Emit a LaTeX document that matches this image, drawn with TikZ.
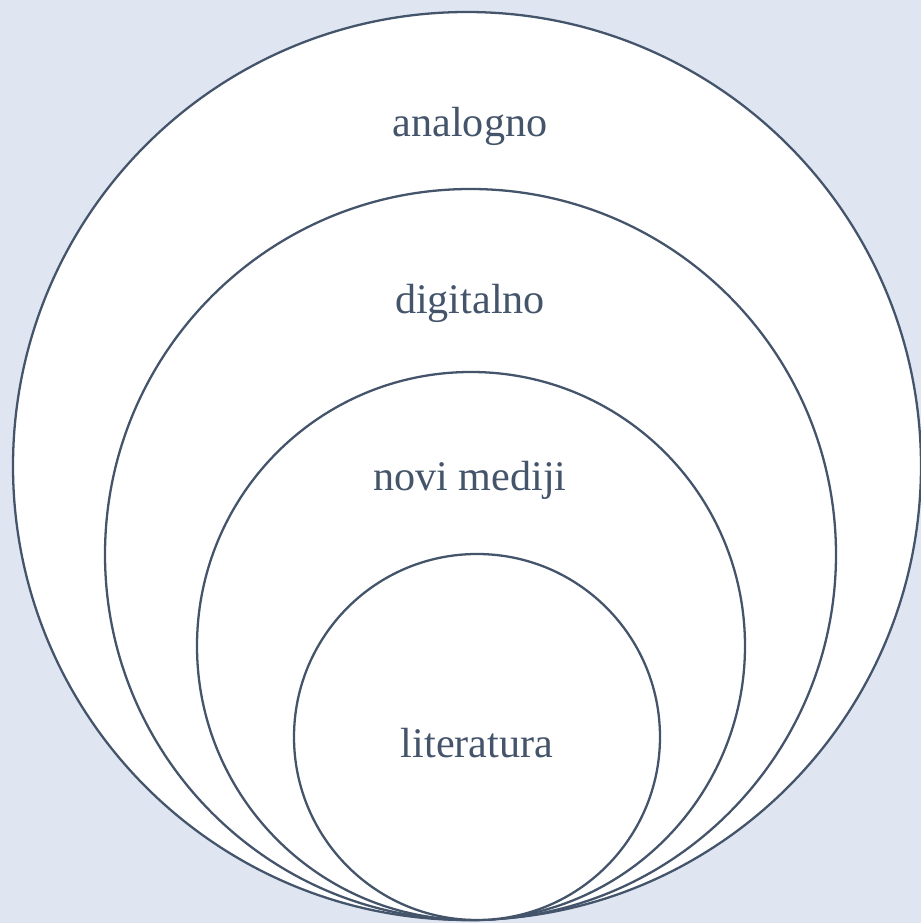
\documentclass[tikz,border=0pt]{standalone}
\usepackage{fontspec}
\setmainfont{Liberation Serif}
\usepackage{xcolor}
\usepackage{tikz}
\definecolor{bgblue}{HTML}{DFE6F2}
\definecolor{slate}{HTML}{44546A}

\begin{document}
\begin{tikzpicture}[ring/.style={draw=slate,line width=1.3pt,fill=white},
	lbl/.style={text=slate,font=\fontsize{24}{28}\selectfont}]
	\fill[bgblue] (0,0) rectangle (18.42,18.46);
	\useasboundingbox (0,0) rectangle (18.42,18.46);
	\draw[ring] (9.34,9.14) circle (9.08);
	\draw[ring] (9.41,7.37) circle (7.31);
	\draw[ring] (9.42,5.54) circle (5.48);
	\draw[ring] (9.54,3.72) circle (3.66);
	\node[lbl] (analog) at (9.40,15.94) {analogno};
	\node[lbl] (digital) at (9.40,12.40) {digitalno};
	\node[lbl] (novi) at (9.40,8.86) {novi mediji};
	\node[lbl] (lit) at (9.54,3.60) {literatura};
\end{tikzpicture}
\end{document}
